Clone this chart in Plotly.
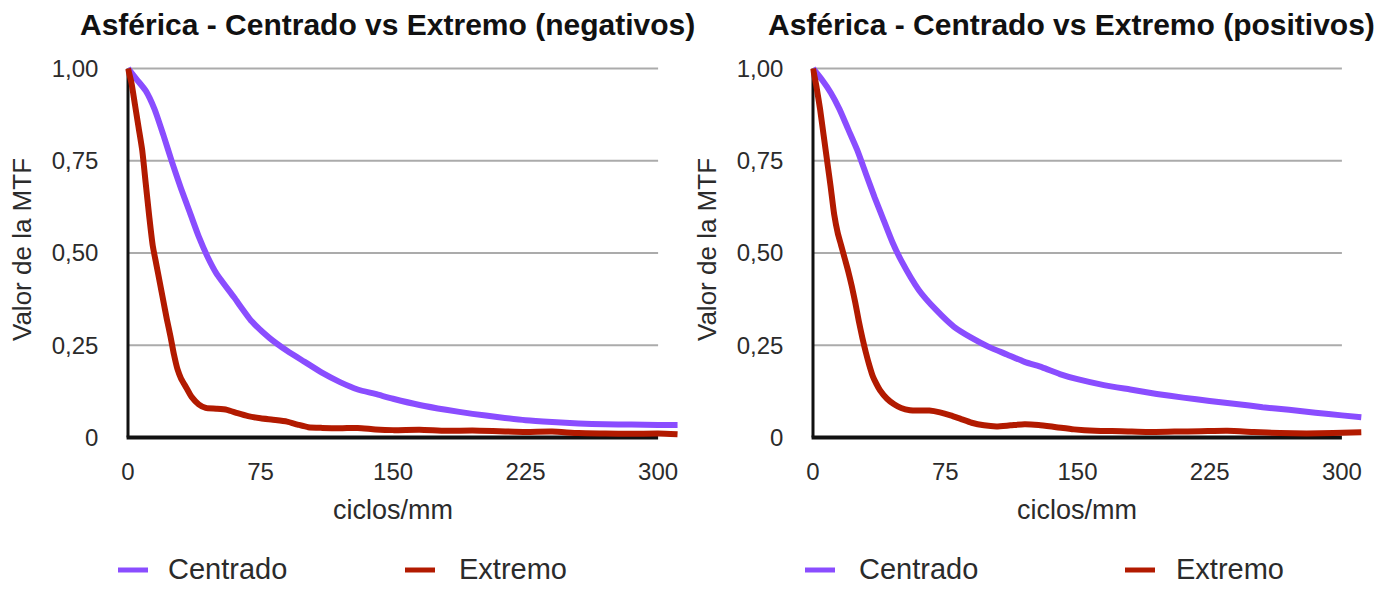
import plotly.graph_objects as go

# ---- data: MTF curves (spatial frequency in cycles/mm) ----
neg_centrado_x = [0, 5, 10, 15, 20, 25, 30, 35, 40, 45, 50, 60, 70, 80, 90, 100, 110, 120, 130, 140,
                  150, 165, 180, 195, 210, 225, 240, 255, 270, 285, 300, 311]
neg_centrado_y = [1.0, 0.97, 0.94, 0.89, 0.82, 0.745, 0.675, 0.61, 0.545, 0.49, 0.445, 0.38, 0.315, 0.27,
                  0.235, 0.205, 0.175, 0.15, 0.13, 0.118, 0.105, 0.088, 0.075, 0.064, 0.055, 0.047, 0.042,
                  0.038, 0.036, 0.035, 0.034, 0.034]

neg_extremo_x = [0, 2, 4, 6, 8, 10, 12, 14, 16, 18, 20, 22, 24, 26, 28, 30, 33, 36, 40, 44, 50, 56, 62, 68,
                 75, 82, 90, 96, 102, 110, 120, 130, 140, 150, 165, 180, 195, 210, 225, 240, 255, 270, 285,
                 300, 311]
neg_extremo_y = [1.0, 0.96, 0.9, 0.84, 0.78, 0.69, 0.6, 0.52, 0.47, 0.42, 0.37, 0.32, 0.275, 0.225, 0.185,
                 0.16, 0.135, 0.11, 0.09, 0.08, 0.078, 0.075, 0.066, 0.058, 0.052, 0.048, 0.043, 0.035,
                 0.028, 0.026, 0.025, 0.026, 0.022, 0.02, 0.021, 0.018, 0.019, 0.017, 0.015, 0.016, 0.012,
                 0.011, 0.010, 0.011, 0.009]

pos_centrado_x = [0, 5, 10, 15, 20, 25, 30, 35, 40, 45, 50, 60, 70, 80, 90, 100, 110, 120, 130, 140,
                  150, 165, 180, 195, 210, 225, 240, 255, 270, 285, 300, 311]
pos_centrado_y = [1.0, 0.97, 0.935, 0.89, 0.835, 0.78, 0.715, 0.65, 0.59, 0.53, 0.48, 0.40, 0.345, 0.30,
                  0.27, 0.245, 0.225, 0.205, 0.19, 0.172, 0.158, 0.142, 0.13, 0.118, 0.108, 0.099, 0.091,
                  0.082, 0.075, 0.067, 0.06, 0.055]

pos_extremo_x = [0, 2, 4, 6, 8, 10, 12, 14, 16, 18, 20, 22, 24, 26, 28, 30, 32, 34, 36, 38, 42, 46, 50,
                 55, 60, 66, 72, 78, 84, 90, 97, 104, 112, 120, 128, 138, 148, 160, 175, 190, 205, 220,
                 235, 250, 265, 280, 295, 311]
pos_extremo_y = [1.0, 0.95, 0.89, 0.82, 0.75, 0.68, 0.605, 0.555, 0.52, 0.485, 0.45, 0.41, 0.365, 0.315,
                 0.27, 0.23, 0.195, 0.165, 0.145, 0.128, 0.105, 0.09, 0.08, 0.074, 0.073, 0.073, 0.068,
                 0.06, 0.05, 0.04, 0.033, 0.03, 0.033, 0.036, 0.034, 0.028, 0.022, 0.018, 0.017, 0.015,
                 0.016, 0.017, 0.018, 0.015, 0.012, 0.011, 0.012, 0.014]

x_ticks = [0, 75, 150, 225, 300]
y_ticks = [0, 0.25, 0.5, 0.75, 1.0]
y_tick_text = ["0", "0,25", "0,50", "0,75", "1,00"]

titles = ["Asférica - Centrado vs Extremo (negativos)", "Asférica - Centrado vs Extremo (positivos)"]
series_names = ["Centrado", "Extremo"]
x_title = "ciclos/mm"
y_title = "Valor de la MTF"

# ---- styling / layout ----
W, H = 1398, 589
PURPLE = "#8a4dff"
RED = "#b21a00"
FONT = "Liberation Sans, Arial, Helvetica, sans-serif"
TXT = "#2b2b2b"

X_RANGE = [-1.5, 312]
Y_RANGE = [-0.01, 1.015]
# pixel position of x=0 and px-per-unit for each panel
panels = [dict(x0=128, ppu=1.767), dict(x0=813, ppu=1.763)]
Y0_PX, Y1_PX = 437.5, 68.5          # pixel rows of y=0 and y=1
ppu_y = Y0_PX - Y1_PX


def xdomain(p):
    left = p["x0"] + X_RANGE[0] * p["ppu"]
    right = p["x0"] + X_RANGE[1] * p["ppu"]
    return [left / W, right / W]


ybot = Y0_PX - Y_RANGE[0] * ppu_y
ytop = Y0_PX - Y_RANGE[1] * ppu_y
ydomain = [(H - ybot) / H, (H - ytop) / H]

fig = go.Figure()

curves = [
    (neg_centrado_x, neg_centrado_y, pos_centrado_x, pos_centrado_y, PURPLE),
    (neg_extremo_x, neg_extremo_y, pos_extremo_x, pos_extremo_y, RED),
]

for k, (xn, yn, xp, yp, col) in enumerate(curves):
    for pi, (xs, ys) in enumerate([(xn, yn), (xp, yp)]):
        sfx = "" if pi == 0 else "2"
        fig.add_trace(go.Scatter(
            x=xs, y=ys, mode="lines", name=series_names[k],
            line=dict(color=col, width=6, shape="spline", smoothing=0.6),
            xaxis="x" + sfx, yaxis="y" + sfx,
            showlegend=False, hoverinfo="skip",
        ))

shapes = []
annotations = []
for pi, p in enumerate(panels):
    sfx = "" if pi == 0 else "2"
    xr, yr = "x" + sfx, "y" + sfx
    for yv in y_ticks[1:]:
        shapes.append(dict(type="line", xref=xr, yref=yr, x0=0, x1=x_ticks[-1], y0=yv, y1=yv,
                           line=dict(color="#ababab", width=2), layer="below"))
    shapes.append(dict(type="line", xref=xr, yref=yr, x0=0, x1=0, y0=0, y1=1,
                       line=dict(color="#111111", width=3), layer="below"))
    shapes.append(dict(type="line", xref=xr, yref=yr, x0=-0.8, x1=x_ticks[-1], y0=0, y1=0,
                       line=dict(color="#111111", width=4), layer="below"))

    cx = p["x0"] + 150 * p["ppu"]
    annotations.append(dict(text="<b>%s</b>" % titles[pi], xref="paper", yref="paper",
                            x=(cx - 6) / W, y=(H - 25) / H, xanchor="center", yanchor="middle",
                            showarrow=False, font=dict(family=FONT, size=30, color="#111111")))
    annotations.append(dict(text=x_title, xref="paper", yref="paper",
                            x=cx / W, y=(H - 510) / H, xanchor="center", yanchor="middle",
                            showarrow=False, font=dict(family=FONT, size=27, color=TXT)))
    annotations.append(dict(text=y_title, xref="paper", yref="paper", textangle=-90,
                            x=(p["x0"] - 106) / W, y=(H - 250) / H, xanchor="center", yanchor="middle",
                            showarrow=False, font=dict(family=FONT, size=26, color=TXT)))

# legend row under each panel: swatch line + series label
legend_swatch_px = [[118, 405], [805, 1125]]
legend_text_px = [[166, 457], [857, 1174]]
LEG_Y = 569
for pi in range(2):
    for k, (xn, yn, xp, yp, col) in enumerate(curves):
        sx = legend_swatch_px[pi][k]
        shapes.append(dict(type="line", xref="paper", yref="paper",
                           x0=sx / W, x1=(sx + 30) / W, y0=(H - LEG_Y - 1) / H, y1=(H - LEG_Y - 1) / H,
                           line=dict(color=col, width=5)))
        annotations.append(dict(text=series_names[k], xref="paper", yref="paper",
                                x=legend_text_px[pi][k] / W, y=(H - LEG_Y) / H,
                                xanchor="left", yanchor="middle", showarrow=False,
                                font=dict(family=FONT, size=29, color=TXT)))

axis_common_x = dict(range=X_RANGE, showgrid=False, zeroline=False, showline=False, automargin=False,
                     tickmode="array", tickvals=x_ticks, ticks="", ticklabelstandoff=14,
                     tickfont=dict(family=FONT, size=24, color=TXT), fixedrange=True)
axis_common_y = dict(range=Y_RANGE, showgrid=False, zeroline=False, showline=False, automargin=False,
                     tickmode="array", tickvals=y_ticks, ticktext=y_tick_text, ticks="",
                     ticklabelstandoff=26, tickfont=dict(family=FONT, size=24, color=TXT),
                     fixedrange=True)

fig.update_layout(
    width=W, height=H, autosize=False, showlegend=False,
    margin=dict(l=0, r=0, t=0, b=0, autoexpand=False),
    paper_bgcolor="white", plot_bgcolor="white",
    separators=",.",
    xaxis=dict(domain=xdomain(panels[0]), anchor="y", **axis_common_x),
    yaxis=dict(domain=ydomain, anchor="x", **axis_common_y),
    xaxis2=dict(domain=xdomain(panels[1]), anchor="y2", **axis_common_x),
    yaxis2=dict(domain=ydomain, anchor="x2", **axis_common_y),
    shapes=shapes, annotations=annotations,
)

fig.write_html("out.html")
